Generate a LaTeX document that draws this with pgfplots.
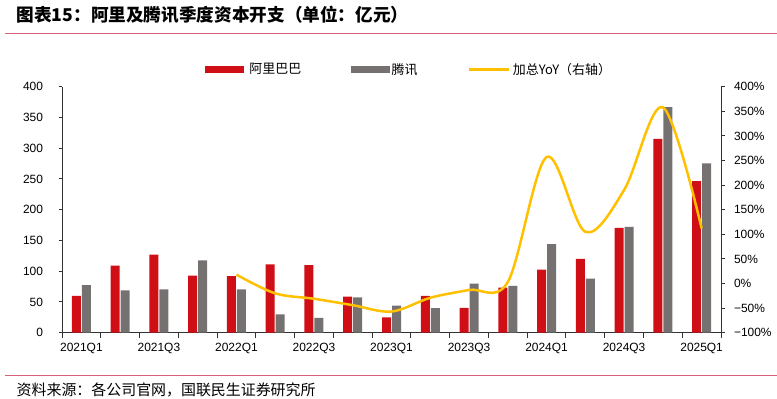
\documentclass[border=0pt]{standalone}
\usepackage{fontspec}
\setmainfont{Liberation Sans}
\newfontfamily\cjk{Noto Sans CJK SC}
\usepackage{pgfplots}
\usepackage{pgfplotstable}
\pgfplotsset{compat=1.18}
\definecolor{alired}{RGB}{208,14,22}
\definecolor{tgray}{RGB}{118,113,113}
\definecolor{yoyc}{RGB}{255,192,0}
\definecolor{rulec}{RGB}{214,96,122}
\definecolor{axc}{RGB}{50,50,50}

\pgfplotstableread{
x ali ten
0 60 77.5
1 109 69
2 127 70.5
3 93 117.5
4 92 70.5
5 111 30
6 110 24
7 58.5 57.5
8 25 44
9 60 40
10 40.5 80
11 73.5 76
12 102.5 144
13 120 88
14 170.5 172
15 315 367
16 246.5 275.5
}\capex

\pgfplotstableread{
x yoy
4 18
5 -20
6 -31
7 -44
8 -57
9 -29
10 -13
11 3
12 257
13 105
14 190
15 358
16 112
}\yoytab

\begin{document}
\begin{tikzpicture}
\useasboundingbox (0,0) rectangle (777bp,-399bp);
\node[anchor=west, inner sep=0] at (16.5bp,-14.5bp) {\cjk\bfseries\fontsize{17.7}{20}\selectfont 图表15：阿里及腾讯季度资本开支（单位：亿元）};
\draw[rulec, line width=1.5bp] (5bp,-33.3bp) -- (777bp,-33.3bp);
\draw[rulec, line width=1.2bp] (5bp,-375.7bp) -- (777bp,-375.7bp);
\node[anchor=west, inner sep=0] at (16.5bp,-390bp) {\cjk\fontsize{15}{17}\selectfont 资料来源：各公司官网，国联民生证券研究所};

\begin{axis}[
  at={(62bp,-332.7bp)}, anchor=south west,
  scale only axis, width=659bp, height=246bp,
  xmin=-0.5, xmax=16.5, ymin=0, ymax=400,
  axis y line*=left, axis x line*=bottom,
  axis line style={axc, line width=1bp},
  every tick/.style={axc, line width=1bp},
  tick align=outside,
  xtick={0,2,...,16},
  xticklabels={2021Q1,2021Q3,2022Q1,2022Q3,2023Q1,2023Q3,2024Q1,2024Q3,2025Q1},
  major x tick style={draw=none},
  minor xtick={-0.5,0.5,...,16.5},
  minor tick length=5.5bp,
  major tick length=3.5bp,
  ytick={0,50,...,400},
  yticklabels={0,50,100,150,200,250,300,350,400},
  ticklabel style={font=\fontsize{12}{14}\selectfont, text=black},
  yticklabel style={xshift=-12bp},
  xticklabel style={yshift=-3bp},
  clip=false,
]
\addplot[ybar, bar width=9bp, bar shift=-5bp, fill=alired, draw=none] table[x=x,y=ali]{\capex};
\addplot[ybar, bar width=9bp, bar shift=5bp, fill=tgray, draw=none] table[x=x,y=ten]{\capex};
\end{axis}

\begin{axis}[
  at={(62bp,-332.7bp)}, anchor=south west,
  scale only axis, width=659bp, height=246bp,
  xmin=-0.5, xmax=16.5, ymin=-100, ymax=400,
  axis y line*=right, axis x line=none,
  axis line style={axc, line width=1bp},
  every tick/.style={axc, line width=1bp},
  tick align=outside,
  major tick length=3.5bp,
  ytick={-100,-50,...,400},
  yticklabels={−100\%,−50\%,0\%,50\%,100\%,150\%,200\%,250\%,300\%,350\%,400\%},
  ticklabel style={font=\fontsize{12}{14}\selectfont, text=black},
  yticklabel style={xshift=6bp},
  clip=false,
  legend columns=3,
  legend style={draw=none, fill=none, inner sep=0pt, outer sep=0pt,
    at={(0.217,1.0707)}, anchor=west,
    font=\cjk\fontsize{13}{15}\selectfont,
    /tikz/every even column/.append style={column sep=48bp}},
  legend cell align=left,
]
\addlegendimage{legend image code/.code={\fill[alired] (0bp,-3bp) rectangle (38bp,3bp); \path (42bp,0bp);}}
\addlegendentry{阿里巴巴}
\addlegendimage{legend image code/.code={\fill[tgray] (0bp,-3bp) rectangle (38bp,3bp);}}
\addlegendentry{腾讯}
\addplot[yoyc, line width=2.5bp, smooth, tension=0.55, no markers,
  legend image code/.code={\draw[yoyc, line width=2.5bp] (0bp,0bp) -- (40bp,0bp); \path (41bp,0bp);}] table[x=x,y=yoy]{\yoytab};
\addlegendentry{加总YoY（右轴）}
\end{axis}
\end{tikzpicture}
\end{document}
